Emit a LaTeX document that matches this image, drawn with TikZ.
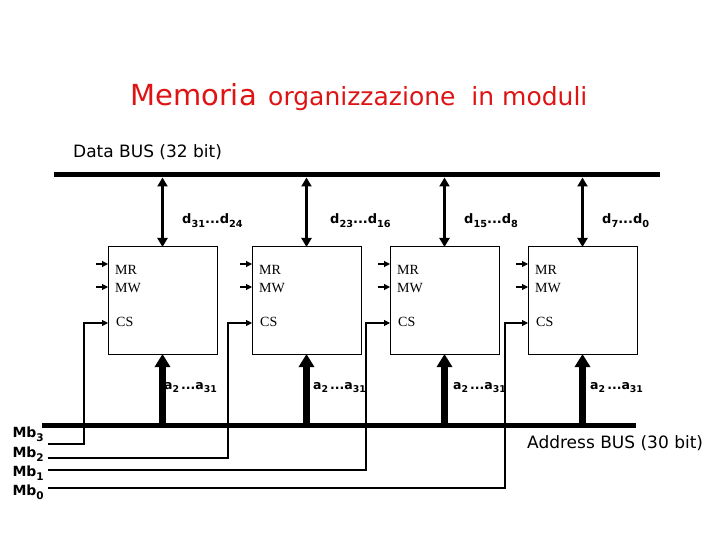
\documentclass[tikz,border=0pt]{standalone}
\usepackage{fontspec}
\usepackage{graphicx}
\usetikzlibrary{arrows.meta}
\newfontfamily\cf{DejaVu Sans}
\newfontfamily\tf{Liberation Serif}
\definecolor{titlered}{RGB}{222,20,20}
\newcommand\lsub[1]{\raisebox{-0.3em}{\scalebox{0.75}{#1}}}
\newcommand\fsz[1]{\fontsize{#1bp}{#1bp}\selectfont}
\begin{document}
\begin{tikzpicture}[x=1bp,y=-1bp,
  box/.style={draw,line width=1bp,minimum width=109bp,minimum height=107bp,inner sep=0,outer sep=0,anchor=north west},
  bus/.style={line width=5.6bp},
  dataarrow/.style={line width=3.5bp,{Triangle[width=10bp,length=9bp]}-{Triangle[width=10bp,length=9bp]}},
  addrarrow/.style={line width=6.5bp,-{Triangle[width=15bp,length=13bp]}},
  ctl/.style={line width=1.1bp,-{Triangle[width=6bp,length=6bp]}},
  sig/.style={font=\tf\fsz{14},anchor=base west,inner sep=0},
  dlab/.style={font=\cf\bfseries\fsz{13},anchor=base west,inner sep=0},
  alab/.style={font=\cf\bfseries\fsz{12.5},anchor=base west,inner sep=0},
  mblab/.style={font=\cf\bfseries\fsz{14},anchor=base east,inner sep=0},
  plain/.style={font=\cf\fsz{17},anchor=base west,inner sep=0}
]
\path[use as bounding box] (0,0) rectangle (720,540);

% title
\node[anchor=base west,inner sep=0,font=\cf\fsz{29},text=titlered] (t1) at (130,106) {Memoria};
\node[anchor=base west,inner sep=0,font=\cf\fsz{25},text=titlered] (t2) at (268,106) {organizzazione\ \ in moduli};
\node[plain] (dbl) at (73,158) {Data BUS (32 bit)};
\node[plain] (abl) at (527,448) {Address BUS (30 bit)};

% buses
\coordinate (db1) at (54,174.5);
\coordinate (db2) at (660,174.5);
\coordinate (dbot) at (0,177.5);
\coordinate (ab1) at (42,425.5);
\coordinate (ab2) at (636,425.5);
\coordinate (atop) at (0,423);
\draw[bus] (db1) -- (db2);
\draw[bus] (ab1) -- (ab2);

% boxes
\foreach \i/\x in {1/108,2/252,3/390,4/528}{
  \node[box] (b\i) at (\x,247) {};
  \node[sig] (mr\i) at ([shift={(7,28)}]b\i.north west) {MR};
  \node[sig] (mw\i) at ([shift={(7,45)}]b\i.north west) {MW};
  \node[sig] (cs\i) at ([shift={(8,79)}]b\i.north west) {CS};
  \draw[ctl] ([shift={(-12,17)}]b\i.north west) -- ([shift={(0,17)}]b\i.north west);
  \draw[ctl] ([shift={(-12,40)}]b\i.north west) -- ([shift={(0,40)}]b\i.north west);
  \draw[dataarrow] (b\i.north |- dbot) -- (b\i.north);
  \draw[addrarrow] (b\i.south |- atop) -- (b\i.south);
}

% data labels
\node[dlab] (d1) at (182,224) {d\lsub{31}...d\lsub{24}};
\node[dlab] (d2) at (330,224) {d\lsub{23}...d\lsub{16}};
\node[dlab] (d3) at (464,224) {d\lsub{15}...d\lsub{8}};
\node[dlab] (d4) at (602,224) {d\lsub{7}...d\lsub{0}};

% address labels
\node[alab] (a1) at (164,389) {a\lsub{2}\,...a\lsub{31}};
\node[alab] (a2) at (313,389) {a\lsub{2}\,...a\lsub{31}};
\node[alab] (a3) at (453,389) {a\lsub{2}\,...a\lsub{31}};
\node[alab] (a4) at (590,389) {a\lsub{2}\,...a\lsub{31}};

% module select lines
\node[mblab] (mb3) at (44,437) {Mb\lsub{3}};
\node[mblab] (mb2) at (44,457) {Mb\lsub{2}};
\node[mblab] (mb1) at (44,476) {Mb\lsub{1}};
\node[mblab] (mb0) at (44,495) {Mb\lsub{0}};
\coordinate (e3) at (48,444);
\coordinate (e2) at (48,458);
\coordinate (e1) at (48,470);
\coordinate (e0) at (48,488);
\coordinate (k1) at (84,323);
\coordinate (k2) at (228,323);
\coordinate (k3) at (366,323);
\coordinate (k4) at (505,323);
\draw[ctl] (e3) -| (k1) -- (b1.west |- k1);
\draw[ctl] (e2) -| (k2) -- (b2.west |- k2);
\draw[ctl] (e1) -| (k3) -- (b3.west |- k3);
\draw[ctl] (e0) -| (k4) -- (b4.west |- k4);
\end{tikzpicture}
\end{document}
